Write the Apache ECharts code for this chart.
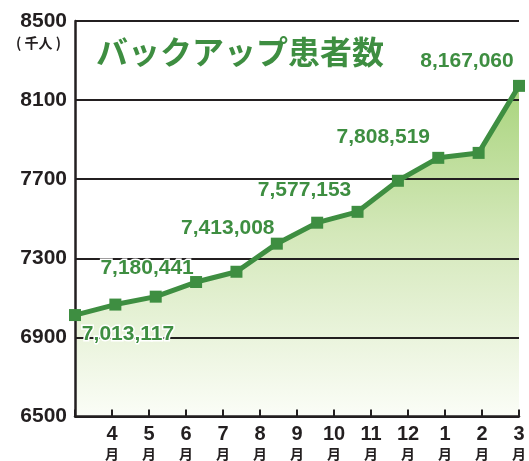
<!DOCTYPE html>
<html>
<head>
<meta charset="utf-8">
<script src="https://cdn.jsdelivr.net/npm/echarts@6/dist/echarts.min.js"></script>
<style>
  html, body { margin: 0; padding: 0; background: #fff; }
  #main { width: 529px; height: 461px; }
</style>
</head>
<body>
<div id="main"></div>
<script>
// tick categories on the bottom axis (first slot is the origin, no label)
var months = ['', '4', '5', '6', '7', '8', '9', '10', '11', '12', '1', '2', '3'];
// patients, thousands
var patients = [7013, 7066, 7106, 7180, 7232, 7374, 7480, 7535, 7692, 7808, 7833, 8172];
var valueLabels = ['7,013,117', '', '', '7,180,441', '', '7,413,008', '', '7,577,153', '', '7,808,519', '', '8,167,060'];
var yTicks = [6500, 6900, 7300, 7700, 8100, 8500];

var green = '#3e8e41';
var font = '"Liberation Sans", Arial, sans-serif';
var jpFont = '"Noto Sans CJK JP", sans-serif';

// where each value label sits relative to its point
var labelOffset = [[53, 19], null, null, [-49, -14], null, [-49, -15], null, [-53, -22], null, [-55, -21], null, [-52, -25]];

var pointIdx = patients.map(function (v, i) { return String(i); });

var lineData = patients.map(function (v, i) {
  var item = { value: v };
  if (valueLabels[i]) {
    item.label = {
      show: true,
      position: 'inside',
      offset: labelOffset[i],
      formatter: valueLabels[i]
    };
  }
  return item;
});

var myChart = echarts.init(document.getElementById('main'));

myChart.setOption({
  animation: false,
  grid: { left: 75, right: 9, top: 21, bottom: 44 },
  xAxis: [{
    type: 'category',
    data: months,
    boundaryGap: false,
    axisLine: { lineStyle: { color: '#231f20', width: 2.5 } },
    axisTick: { inside: true, length: 7, lineStyle: { color: '#231f20', width: 2 } },
    axisLabel: {
      interval: 0,
      margin: 8,
      formatter: function (v) { return v ? '{n|' + v + '}\n{m|月}' : ''; },
      rich: {
        n: { fontFamily: font, fontWeight: 'bold', fontSize: 20, color: '#231f20', lineHeight: 20 },
        m: { fontFamily: jpFont, fontWeight: 'bold', fontSize: 14, color: '#231f20', lineHeight: 19 }
      }
    },
    splitLine: { show: false },
    z: 2
  }, {
    type: 'category',
    data: pointIdx,
    boundaryGap: false,
    show: false
  }],
  yAxis: {
    type: 'value',
    min: 6500,
    max: 8500,
    interval: 400,
    axisLine: { show: true, lineStyle: { color: '#231f20', width: 2.5 } },
    axisTick: { show: false },
    axisLabel: {
      margin: 8,
      fontFamily: font,
      fontWeight: 'bold',
      fontSize: 21,
      color: '#231f20',
      formatter: function (v) { return yTicks.indexOf(v) >= 0 ? String(v) : ''; }
    },
    splitLine: { show: true, lineStyle: { color: '#231f20', width: 2 } },
    z: 2
  },
  graphic: [{
    type: 'text',
    left: 16,
    top: 36,
    style: { text: '( 千人 )', font: 'bold 14px ' + jpFont, fill: '#231f20' }
  }, {
    type: 'text',
    left: 96,
    top: 36,
    style: { text: 'バックアップ患者数', font: 'bold 32px ' + jpFont, fill: green }
  }],
  series: [{
    // gradient fill under the line
    type: 'line',
    xAxisIndex: 1,
    data: patients,
    symbol: 'none',
    lineStyle: { width: 0 },
    areaStyle: {
      opacity: 1,
      color: new echarts.graphic.LinearGradient(0, 0, 0, 1, [
        { offset: 0, color: '#a9d47d' },
        { offset: 0.45, color: '#d4e8ba' },
        { offset: 1, color: '#fbfdf7' }
      ])
    },
    z: 1
  }, {
    type: 'line',
    xAxisIndex: 1,
    data: lineData,
    symbol: 'rect',
    symbolSize: 12,
    itemStyle: { color: green },
    lineStyle: { color: green, width: 5 },
    label: {
      show: false,
      fontFamily: font,
      fontWeight: 'bold',
      fontSize: 21,
      color: green,
      textBorderColor: '#fff',
      textBorderWidth: 3
    },
    z: 3
  }]
});

window.addEventListener('resize', function () { myChart.resize(); });
</script>
</body>
</html>
